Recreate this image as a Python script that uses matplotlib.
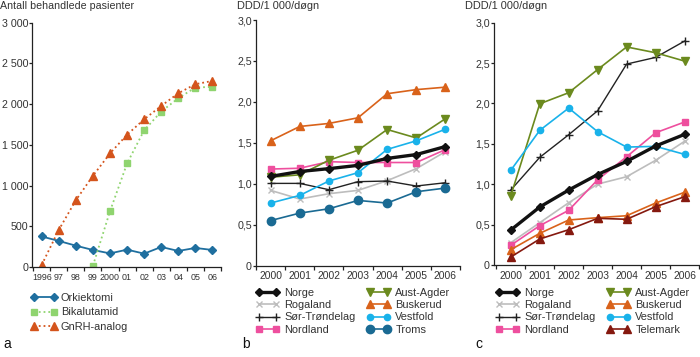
import matplotlib
matplotlib.use("Agg")
import matplotlib.pyplot as plt
from matplotlib.ticker import FixedLocator, FuncFormatter, NullFormatter

plt.rcParams['font.family'] = ['Liberation Sans', 'DejaVu Sans']
FS = 7.4
TXT = '#333333'

# ---------- Panel a data ----------
years_a = [1996, 1997, 1998, 1999, 2000, 2001, 2002, 2003, 2004, 2005, 2006]
year_labels_a = ['1996', '97', '98', '99', '2000', '01', '02', '03', '04', '05', '06']
orkiektomi = [375, 320, 262, 209, 167, 213, 164, 246, 197, 234, 209]
bika_years = [1999, 2000, 2001, 2002, 2003, 2004, 2005, 2006]
bikalutamid = [15, 685, 1272, 1679, 1909, 2073, 2204, 2212]
gnrh = [25, 455, 820, 1120, 1395, 1625, 1814, 1978, 2134, 2245, 2285]

# ---------- Panels b, c data ----------
years_bc = [2000, 2001, 2002, 2003, 2004, 2005, 2006]

b_norge = [1.09, 1.15, 1.185, 1.225, 1.31, 1.357, 1.455]
b_rogaland = [0.92, 0.814, 0.879, 0.92, 1.038, 1.185, 1.393]
b_sortrondelag = [1.005, 1.005, 0.928, 1.026, 1.034, 0.973, 1.013]
b_nordland = [1.18, 1.19, 1.27, 1.26, 1.26, 1.26, 1.418]
b_austagder = [1.08, 1.11, 1.287, 1.41, 1.663, 1.56, 1.795]
b_buskerud = [1.525, 1.70, 1.737, 1.806, 2.10, 2.15, 2.18]
b_vestfold = [0.765, 0.858, 1.034, 1.136, 1.42, 1.525, 1.667]
b_troms = [0.551, 0.642, 0.695, 0.797, 0.765, 0.903, 0.948]

c_norge = [0.433, 0.718, 0.928, 1.12, 1.283, 1.473, 1.617]
c_rogaland = [0.276, 0.524, 0.771, 1.002, 1.093, 1.296, 1.531]
c_sortrondelag = [0.928, 1.333, 1.613, 1.91, 2.488, 2.57, 2.772]
c_nordland = [0.244, 0.487, 0.677, 1.056, 1.34, 1.637, 1.77]
c_austagder = [0.858, 1.996, 2.133, 2.42, 2.70, 2.628, 2.525]
c_buskerud = [0.19, 0.392, 0.557, 0.586, 0.61, 0.767, 0.90]
c_vestfold = [1.172, 1.667, 1.943, 1.65, 1.46, 1.469, 1.37]
c_telemark = [0.099, 0.322, 0.437, 0.578, 0.566, 0.722, 0.845]

styles = {
    'Norge': dict(color='#111111', marker='D', ms=4, lw=2.4, mec='#111111'),
    'Rogaland': dict(color='#bdbdbd', marker='x', ms=4.5, lw=1.2, mew=1.0),
    'Sør-Trøndelag': dict(color='#222222', marker='+', ms=6, lw=1.0, mew=1.0),
    'Nordland': dict(color='#ee4f9e', marker='s', ms=4.2, lw=1.2),
    'Aust-Agder': dict(color='#6b8a1e', marker='v', ms=5.5, lw=1.2),
    'Buskerud': dict(color='#d9621a', marker='^', ms=5.5, lw=1.2),
    'Vestfold': dict(color='#19b2ea', marker='o', ms=4.5, lw=1.2),
    'Troms': dict(color='#1a6a93', marker='o', ms=6, lw=1.2),
    'Telemark': dict(color='#85190f', marker='^', ms=5.5, lw=1.2),
}

fig = plt.figure(figsize=(7.0, 3.57), dpi=100)


def style_axes(ax, x0, x1, ylim, yticks, yfmt, xticks_lab, xlabels, xfs):
    for s in ['top', 'right']:
        ax.spines[s].set_visible(False)
    for s in ['left', 'bottom']:
        ax.spines[s].set_color('#222222')
        ax.spines[s].set_linewidth(0.9)
    ax.set_xlim(x0, x1)
    ax.set_ylim(*ylim)
    ax.set_yticks(yticks)
    ax.yaxis.set_major_formatter(FuncFormatter(yfmt))
    # tick marks at half positions, labels at integer positions
    half = [v - 0.5 for v in xticks_lab] + [xticks_lab[-1] + 0.5]
    ax.xaxis.set_major_locator(FixedLocator(half))
    ax.xaxis.set_major_formatter(NullFormatter())
    ax.xaxis.set_minor_locator(FixedLocator(xticks_lab))
    ax.set_xticklabels(xlabels, minor=True)
    ax.tick_params(axis='x', which='minor', length=0, labelsize=xfs, colors=TXT, pad=4)
    ax.tick_params(axis='x', which='major', length=3, width=0.9, color='#222222')
    ax.tick_params(axis='y', length=2.3, width=0.9, color='#222222', labelsize=FS + 0.3,
                   labelcolor=TXT, pad=0.6)
    ax.patch.set_visible(False)


def fmt_a(v, pos):
    v = int(round(v))
    if v >= 1000:
        return f"{v // 1000} {v % 1000:03d}"
    return str(v)


def fmt_bc(v, pos):
    if abs(v) < 1e-9:
        return '0'
    return f"{v:.1f}".replace('.', ',')


leg_kw = dict(frameon=False, fontsize=FS + 0.5, numpoints=2, borderpad=0, borderaxespad=0,
              labelcolor=TXT)

# ---------- Panel a ----------
axa = fig.add_axes([32.3 / 700, 1 - 267 / 357, (221 - 32.3) / 700, (267 - 22.7) / 357])
style_axes(axa, 1995.45, 2006.5, (0, 3000), [0, 500, 1000, 1500, 2000, 2500, 3000], fmt_a,
           years_a, year_labels_a, FS - 1.0)
l1, = axa.plot(years_a, orkiektomi, color='#1f6f9f', marker='D', ms=4, lw=1.3, label='Orkiektomi')
l2, = axa.plot(bika_years, bikalutamid, color='#8fd46f', marker='s', ms=4.2, lw=1.3, ls=':',
               label='Bikalutamid')
l3, = axa.plot(years_a, gnrh, color='#d4541c', marker='^', ms=5.5, lw=1.3, ls=':', label='GnRH-analog')
fig.text(0.0, 1 - 6 / 357, 'Antall behandlede pasienter', fontsize=FS + 0.3, color=TXT,
         ha='left', va='center')
fig.legend(handles=[l1, l2, l3], loc='upper left', bbox_to_anchor=(31 / 700, 1 - 293 / 357),
           handlelength=2.4, handletextpad=0.3, labelspacing=0.4, **leg_kw)
fig.text(3 / 700, 1 - 344 / 357, 'a', fontsize=10, color='#111111', ha='left', va='center')

# ---------- Panel b ----------
axb = fig.add_axes([256 / 700, 1 - 265.7 / 357, (460 - 256) / 700, (265.7 - 20) / 357])
style_axes(axb, 1999.5, 2006.5, (0, 3.0), [0, 0.5, 1.0, 1.5, 2.0, 2.5, 3.0], fmt_bc,
           years_bc, [str(y) for y in years_bc], FS)
b_series = [('Norge', b_norge), ('Rogaland', b_rogaland), ('Sør-Trøndelag', b_sortrondelag),
            ('Nordland', b_nordland), ('Aust-Agder', b_austagder), ('Buskerud', b_buskerud),
            ('Vestfold', b_vestfold), ('Troms', b_troms)]
hb = {}
for name, vals in b_series:
    st = dict(styles[name])
    z = 5 if name == 'Norge' else 3
    hb[name], = axb.plot(years_bc, vals, label=name, zorder=z, **st)
fig.text(237 / 700, 1 - 6 / 357, 'DDD/1 000/døgn', fontsize=FS + 0.5, color=TXT,
         ha='left', va='center')
fig.legend(handles=[hb[n] for n, _ in b_series], loc='upper left',
           bbox_to_anchor=(256 / 700, 1 - 288 / 357), ncol=2,
           handlelength=2.1, handletextpad=0.5, labelspacing=0.2, columnspacing=1.0, **leg_kw)
fig.text(242 / 700, 1 - 344 / 357, 'b', fontsize=10, color='#111111', ha='left', va='center')

# ---------- Panel c ----------
axc = fig.add_axes([494 / 700, 1 - 265 / 357, (699 - 494) / 700, (265 - 22.7) / 357])
style_axes(axc, 1999.42, 2006.5, (0, 3.0), [0, 0.5, 1.0, 1.5, 2.0, 2.5, 3.0], fmt_bc,
           years_bc, [str(y) for y in years_bc], FS)
c_series = [('Norge', c_norge), ('Rogaland', c_rogaland), ('Sør-Trøndelag', c_sortrondelag),
            ('Nordland', c_nordland), ('Aust-Agder', c_austagder), ('Buskerud', c_buskerud),
            ('Vestfold', c_vestfold), ('Telemark', c_telemark)]
hc = {}
for name, vals in c_series:
    st = dict(styles[name])
    z = 5 if name == 'Norge' else 3
    hc[name], = axc.plot(years_bc, vals, label=name, zorder=z, **st)
fig.text(465 / 700, 1 - 6 / 357, 'DDD/1 000/døgn', fontsize=FS + 0.5, color=TXT,
         ha='left', va='center')
fig.legend(handles=[hc[n] for n, _ in c_series], loc='upper left',
           bbox_to_anchor=(496 / 700, 1 - 288 / 357), ncol=2,
           handlelength=2.1, handletextpad=0.5, labelspacing=0.2, columnspacing=1.0, **leg_kw)
fig.text(475 / 700, 1 - 344 / 357, 'c', fontsize=10, color='#111111', ha='left', va='center')

fig.savefig('out.png', dpi=100)
